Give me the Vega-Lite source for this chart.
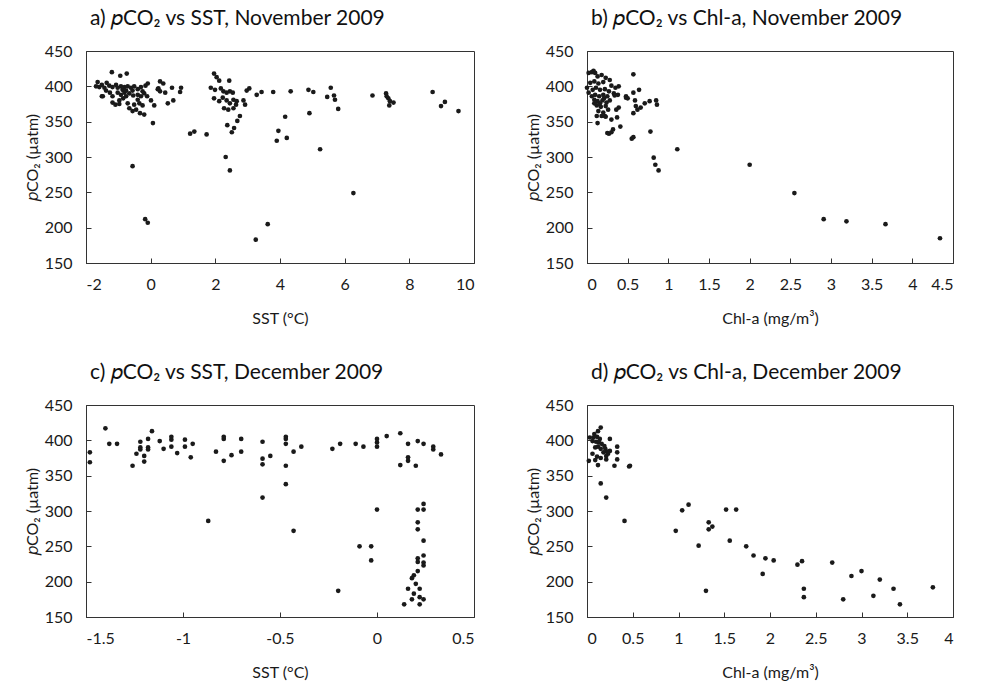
{
  "$schema": "https://vega.github.io/schema/vega-lite/v6.json",
  "background": "white",
  "padding": {"left": 23, "top": 7, "right": 5, "bottom": 5},
  "bounds": "flush",
  "columns": 2,
  "spacing": {"row": 142, "column": 113},
  "config": {
    "font": "Lato",
    "view": {"stroke": "#333333", "strokeWidth": 1},
    "axis": {"grid": false, "domainColor": "#333333", "tickColor": "#333333", "tickSize": -5, "labelFont": "Lato", "labelFontSize": 16, "labelColor": "#1a1a1a", "titleFont": "Lato", "titleFontSize": 16, "titleFontWeight": "normal", "titleColor": "#1a1a1a", "labelExpr": "'' + datum.value"},
    "axisY": {"labelPadding": 19, "titlePadding": 4},
    "axisX": {"labelPadding": 18, "titlePadding": 18},
    "title": {"font": "Lato", "fontSize": 21, "fontWeight": "normal", "anchor": "start", "frame": "group", "color": "#111111", "offset": 14, "dx": 4},
    "point": {"filled": true, "shape": "circle", "size": 22, "color": "#1a1a1a", "opacity": 1}
  },
  "datasets": {
    "a": [
      {"x": -1.20, "y": 420}, {"x": -0.94, "y": 415}, {"x": -0.74, "y": 418}, {"x": -1.64, "y": 406}, {"x": -1.59, "y": 399}, {"x": -1.51, "y": 402}, {"x": -1.43, "y": 398}, {"x": -1.36, "y": 405}, {"x": -1.28, "y": 401}, {"x": -1.18, "y": 399}, {"x": -1.07, "y": 402}, {"x": -1.02, "y": 398}, {"x": -0.92, "y": 400}, {"x": -0.81, "y": 399}, {"x": -0.71, "y": 400}, {"x": -0.61, "y": 398}, {"x": -0.51, "y": 400}, {"x": -0.40, "y": 396}, {"x": -0.30, "y": 399}, {"x": -0.16, "y": 401}, {"x": -0.09, "y": 404}, {"x": -1.51, "y": 386}, {"x": -1.26, "y": 391}, {"x": -1.18, "y": 386}, {"x": -1.02, "y": 391}, {"x": -0.92, "y": 388}, {"x": -0.81, "y": 391}, {"x": -0.76, "y": 386}, {"x": -0.66, "y": 390}, {"x": -0.54, "y": 387}, {"x": -0.40, "y": 388}, {"x": -0.30, "y": 386}, {"x": -0.20, "y": 390}, {"x": -1.18, "y": 377}, {"x": -1.09, "y": 374}, {"x": -0.97, "y": 380}, {"x": -0.71, "y": 376}, {"x": -0.51, "y": 374}, {"x": -0.35, "y": 376}, {"x": -0.66, "y": 369}, {"x": -0.45, "y": 367}, {"x": -0.33, "y": 362}, {"x": -0.20, "y": 360}, {"x": 0.01, "y": 380}, {"x": 0.11, "y": 373}, {"x": 0.07, "y": 348}, {"x": -0.11, "y": 386}, {"x": -0.87, "y": 395}, {"x": -1.38, "y": 394}, {"x": -0.56, "y": 394}, {"x": -0.25, "y": 393}, {"x": -1.69, "y": 400}, {"x": -0.76, "y": 394}, {"x": -0.85, "y": 383}, {"x": -0.97, "y": 375}, {"x": -0.40, "y": 381}, {"x": -0.25, "y": 373}, {"x": -0.56, "y": 365}, {"x": -1.48, "y": 386},
      {"x": 0.22, "y": 396}, {"x": 0.29, "y": 407}, {"x": 0.39, "y": 404}, {"x": 0.45, "y": 391}, {"x": 0.66, "y": 398}, {"x": 0.53, "y": 376}, {"x": 0.70, "y": 380}, {"x": 0.94, "y": 398}, {"x": 0.91, "y": 392}, {"x": 0.24, "y": 397}, {"x": 0.29, "y": 393},
      {"x": 1.22, "y": 333}, {"x": 1.35, "y": 336}, {"x": 1.73, "y": 332}, {"x": -0.56, "y": 287}, {"x": -0.17, "y": 212}, {"x": -0.09, "y": 207},
      {"x": 1.96, "y": 418}, {"x": 2.04, "y": 413}, {"x": 2.12, "y": 408}, {"x": 2.43, "y": 408}, {"x": 1.86, "y": 398}, {"x": 1.99, "y": 395}, {"x": 2.17, "y": 397}, {"x": 2.25, "y": 393}, {"x": 2.35, "y": 391}, {"x": 2.45, "y": 393}, {"x": 2.54, "y": 391}, {"x": 2.97, "y": 394}, {"x": 3.05, "y": 397}, {"x": 3.28, "y": 388}, {"x": 3.43, "y": 392}, {"x": 3.79, "y": 392}, {"x": 1.96, "y": 383}, {"x": 2.12, "y": 379}, {"x": 2.23, "y": 384}, {"x": 2.35, "y": 380}, {"x": 2.45, "y": 376}, {"x": 2.56, "y": 381}, {"x": 2.66, "y": 379}, {"x": 2.87, "y": 380}, {"x": 2.92, "y": 374}, {"x": 2.27, "y": 369}, {"x": 2.40, "y": 367}, {"x": 2.56, "y": 369}, {"x": 2.64, "y": 374}, {"x": 2.76, "y": 358}, {"x": 2.68, "y": 351}, {"x": 2.37, "y": 345}, {"x": 2.58, "y": 341}, {"x": 2.51, "y": 335}, {"x": 3.95, "y": 337}, {"x": 3.90, "y": 323}, {"x": 2.32, "y": 300}, {"x": 2.45, "y": 281}, {"x": 3.62, "y": 205}, {"x": 3.25, "y": 183},
      {"x": 4.33, "y": 393}, {"x": 4.88, "y": 395}, {"x": 5.03, "y": 392}, {"x": 5.57, "y": 398}, {"x": 5.46, "y": 385}, {"x": 5.67, "y": 387}, {"x": 5.70, "y": 381}, {"x": 5.80, "y": 368}, {"x": 4.16, "y": 357}, {"x": 4.91, "y": 362}, {"x": 4.21, "y": 327}, {"x": 5.24, "y": 311}, {"x": 6.27, "y": 249}, {"x": 6.86, "y": 387}, {"x": 7.28, "y": 390}, {"x": 7.30, "y": 386}, {"x": 7.35, "y": 383}, {"x": 7.40, "y": 379}, {"x": 7.51, "y": 377}, {"x": 7.38, "y": 373}, {"x": 8.72, "y": 392}, {"x": 9.10, "y": 378}, {"x": 8.98, "y": 372}, {"x": 9.52, "y": 365}
    ],
    "b": [
      {"x": 0.02, "y": 419}, {"x": 0.08, "y": 422}, {"x": 0.13, "y": 414}, {"x": 0.18, "y": 416}, {"x": 0.23, "y": 412}, {"x": 0.28, "y": 409}, {"x": 0.04, "y": 405}, {"x": 0.09, "y": 407}, {"x": 0.14, "y": 404}, {"x": 0.20, "y": 406}, {"x": 0.30, "y": 401}, {"x": 0.35, "y": 398}, {"x": 0.39, "y": 400}, {"x": 0.07, "y": 395}, {"x": 0.11, "y": 398}, {"x": 0.16, "y": 395}, {"x": 0.22, "y": 396}, {"x": 0.27, "y": 393}, {"x": 0.33, "y": 390}, {"x": 0.38, "y": 388}, {"x": 0.02, "y": 391}, {"x": 0.10, "y": 388}, {"x": 0.15, "y": 386}, {"x": 0.20, "y": 388}, {"x": 0.25, "y": 386}, {"x": 0.09, "y": 381}, {"x": 0.13, "y": 379}, {"x": 0.19, "y": 380}, {"x": 0.24, "y": 377}, {"x": 0.12, "y": 373}, {"x": 0.17, "y": 371}, {"x": 0.23, "y": 372}, {"x": 0.14, "y": 365}, {"x": 0.20, "y": 363}, {"x": 0.26, "y": 367}, {"x": 0.18, "y": 358}, {"x": 0.23, "y": 357}, {"x": 0.48, "y": 386}, {"x": 0.00, "y": 398}, {"x": 0.06, "y": 386}, {"x": 0.09, "y": 376}, {"x": 0.16, "y": 376}, {"x": 0.21, "y": 383}, {"x": 0.28, "y": 380}, {"x": 0.34, "y": 387}, {"x": 0.12, "y": 358}, {"x": 0.06, "y": 420}, {"x": 0.10, "y": 419},
      {"x": 0.57, "y": 417}, {"x": 0.64, "y": 395}, {"x": 0.57, "y": 391}, {"x": 0.48, "y": 384}, {"x": 0.50, "y": 383}, {"x": 0.59, "y": 380}, {"x": 0.66, "y": 370}, {"x": 0.71, "y": 376}, {"x": 0.77, "y": 379}, {"x": 0.85, "y": 380}, {"x": 0.86, "y": 374}, {"x": 0.60, "y": 372}, {"x": 0.57, "y": 362}, {"x": 0.62, "y": 367}, {"x": 0.39, "y": 370}, {"x": 0.36, "y": 367}, {"x": 0.30, "y": 353}, {"x": 0.37, "y": 356}, {"x": 0.41, "y": 343}, {"x": 0.13, "y": 348}, {"x": 0.22, "y": 358}, {"x": 0.25, "y": 334}, {"x": 0.27, "y": 333}, {"x": 0.32, "y": 339}, {"x": 0.30, "y": 335}, {"x": 0.55, "y": 326}, {"x": 0.57, "y": 328}, {"x": 0.78, "y": 336}, {"x": 1.11, "y": 311}, {"x": 0.82, "y": 299}, {"x": 0.84, "y": 289}, {"x": 0.88, "y": 281},
      {"x": 2.00, "y": 289}, {"x": 2.55, "y": 249}, {"x": 2.91, "y": 212}, {"x": 3.19, "y": 209}, {"x": 3.67, "y": 205}, {"x": 4.34, "y": 185}
    ],
    "c": [
      {"x": -1.40, "y": 417}, {"x": -1.48, "y": 383}, {"x": -1.48, "y": 369}, {"x": -1.38, "y": 395}, {"x": -1.34, "y": 395}, {"x": -1.26, "y": 364}, {"x": -1.24, "y": 381}, {"x": -1.22, "y": 398}, {"x": -1.22, "y": 390}, {"x": -1.22, "y": 387}, {"x": -1.20, "y": 378}, {"x": -1.20, "y": 370}, {"x": -1.18, "y": 402}, {"x": -1.18, "y": 390}, {"x": -1.18, "y": 387}, {"x": -1.16, "y": 413}, {"x": -1.12, "y": 399}, {"x": -1.10, "y": 388}, {"x": -1.06, "y": 405}, {"x": -1.06, "y": 401}, {"x": -1.06, "y": 391}, {"x": -1.03, "y": 382}, {"x": -0.99, "y": 401}, {"x": -0.99, "y": 391}, {"x": -0.96, "y": 376}, {"x": -0.95, "y": 395}, {"x": -0.87, "y": 286}, {"x": -0.83, "y": 384}, {"x": -0.79, "y": 405}, {"x": -0.79, "y": 402}, {"x": -0.79, "y": 371}, {"x": -0.75, "y": 379}, {"x": -0.70, "y": 402}, {"x": -0.70, "y": 384}, {"x": -0.59, "y": 398}, {"x": -0.59, "y": 374}, {"x": -0.59, "y": 366}, {"x": -0.59, "y": 319}, {"x": -0.55, "y": 378},
      {"x": -0.47, "y": 405}, {"x": -0.47, "y": 402}, {"x": -0.47, "y": 395}, {"x": -0.47, "y": 364}, {"x": -0.47, "y": 338}, {"x": -0.43, "y": 384}, {"x": -0.39, "y": 391}, {"x": -0.43, "y": 272}, {"x": -0.23, "y": 388}, {"x": -0.19, "y": 395}, {"x": -0.11, "y": 395}, {"x": -0.07, "y": 391}, {"x": 0.00, "y": 402}, {"x": 0.00, "y": 397}, {"x": 0.00, "y": 391}, {"x": 0.05, "y": 406}, {"x": 0.00, "y": 302}, {"x": 0.12, "y": 410}, {"x": 0.16, "y": 395}, {"x": 0.21, "y": 399}, {"x": 0.24, "y": 395}, {"x": 0.29, "y": 391}, {"x": 0.29, "y": 387}, {"x": 0.33, "y": 380}, {"x": 0.12, "y": 365}, {"x": 0.16, "y": 376}, {"x": 0.16, "y": 371}, {"x": 0.20, "y": 364}, {"x": -0.09, "y": 250}, {"x": -0.03, "y": 250}, {"x": -0.03, "y": 230}, {"x": 0.24, "y": 310}, {"x": 0.24, "y": 302}, {"x": 0.21, "y": 302}, {"x": 0.21, "y": 284}, {"x": 0.21, "y": 274}, {"x": 0.24, "y": 258}, {"x": 0.24, "y": 237}, {"x": 0.24, "y": 227}, {"x": 0.24, "y": 223}, {"x": 0.21, "y": 233}, {"x": 0.21, "y": 228}, {"x": 0.21, "y": 215}, {"x": 0.19, "y": 209},
      {"x": -0.20, "y": 187}, {"x": 0.18, "y": 205}, {"x": 0.20, "y": 197}, {"x": 0.22, "y": 190}, {"x": 0.16, "y": 190}, {"x": 0.19, "y": 183}, {"x": 0.22, "y": 178}, {"x": 0.14, "y": 168}, {"x": 0.18, "y": 175}, {"x": 0.24, "y": 175}, {"x": 0.22, "y": 168}
    ],
    "d": [
      {"x": 0.15, "y": 418}, {"x": 0.12, "y": 413}, {"x": 0.08, "y": 409}, {"x": 0.03, "y": 404}, {"x": 0.07, "y": 404}, {"x": 0.11, "y": 405}, {"x": 0.14, "y": 402}, {"x": 0.06, "y": 399}, {"x": 0.10, "y": 398}, {"x": 0.13, "y": 397}, {"x": 0.16, "y": 395}, {"x": 0.19, "y": 392}, {"x": 0.12, "y": 391}, {"x": 0.09, "y": 390}, {"x": 0.15, "y": 388}, {"x": 0.20, "y": 388}, {"x": 0.22, "y": 384}, {"x": 0.18, "y": 383}, {"x": 0.25, "y": 385}, {"x": 0.25, "y": 402}, {"x": 0.33, "y": 391}, {"x": 0.33, "y": 383}, {"x": 0.33, "y": 373}, {"x": 0.06, "y": 381}, {"x": 0.11, "y": 377}, {"x": 0.15, "y": 375}, {"x": 0.21, "y": 378}, {"x": 0.23, "y": 381}, {"x": 0.02, "y": 371}, {"x": 0.12, "y": 365}, {"x": 0.09, "y": 372}, {"x": 0.21, "y": 373}, {"x": 0.30, "y": 364}, {"x": 0.47, "y": 364}, {"x": 0.46, "y": 363}, {"x": 0.15, "y": 339}, {"x": 0.21, "y": 319}, {"x": 0.41, "y": 286},
      {"x": 0.97, "y": 272}, {"x": 1.04, "y": 301}, {"x": 1.11, "y": 309}, {"x": 1.22, "y": 251}, {"x": 1.33, "y": 284}, {"x": 1.33, "y": 274}, {"x": 1.37, "y": 278}, {"x": 1.52, "y": 302}, {"x": 1.63, "y": 302}, {"x": 1.56, "y": 258}, {"x": 1.74, "y": 250}, {"x": 1.82, "y": 237}, {"x": 1.95, "y": 233}, {"x": 2.04, "y": 230}, {"x": 1.92, "y": 211},
      {"x": 2.30, "y": 224}, {"x": 2.35, "y": 229}, {"x": 2.68, "y": 227}, {"x": 3.00, "y": 215}, {"x": 2.89, "y": 208},
      {"x": 1.30, "y": 187}, {"x": 2.37, "y": 190}, {"x": 2.37, "y": 178}, {"x": 2.80, "y": 175}, {"x": 3.13, "y": 180}, {"x": 3.20, "y": 203}, {"x": 3.35, "y": 190}, {"x": 3.42, "y": 168}, {"x": 3.78, "y": 192}
    ]
  },
  "concat": [
    {
      "width": 388, "height": 212,
      "title": "a) 𝑝CO₂ vs SST, November 2009",
      "data": {"name": "a"},
      "mark": {"type": "point"},
      "encoding": {
        "x": {"field": "x", "type": "quantitative", "scale": {"domain": [-2, 10], "nice": false, "zero": false}, "axis": {"values": [-2, 0, 2, 4, 6, 8, 10], "title": "SST (°C)"}},
        "y": {"field": "y", "type": "quantitative", "scale": {"domain": [150, 450], "nice": false, "zero": false}, "axis": {"values": [150, 200, 250, 300, 350, 400, 450], "title": "𝑝CO₂ (µatm)"}}
      }
    },
    {
      "width": 366, "height": 212,
      "title": "b) 𝑝CO₂ vs Chl-a, November 2009",
      "data": {"name": "b"},
      "mark": {"type": "point"},
      "encoding": {
        "x": {"field": "x", "type": "quantitative", "scale": {"domain": [0, 4.5], "nice": false, "zero": false}, "axis": {"values": [0, 0.5, 1, 1.5, 2, 2.5, 3, 3.5, 4, 4.5], "title": "Chl-a (mg/m³)"}},
        "y": {"field": "y", "type": "quantitative", "scale": {"domain": [150, 450], "nice": false, "zero": false}, "axis": {"values": [150, 200, 250, 300, 350, 400, 450], "title": "𝑝CO₂ (µatm)"}}
      }
    },
    {
      "width": 388, "height": 212,
      "title": "c) 𝑝CO₂ vs SST, December 2009",
      "data": {"name": "c"},
      "mark": {"type": "point"},
      "encoding": {
        "x": {"field": "x", "type": "quantitative", "scale": {"domain": [-1.5, 0.5], "nice": false, "zero": false}, "axis": {"values": [-1.5, -1, -0.5, 0, 0.5], "title": "SST (°C)"}},
        "y": {"field": "y", "type": "quantitative", "scale": {"domain": [150, 450], "nice": false, "zero": false}, "axis": {"values": [150, 200, 250, 300, 350, 400, 450], "title": "𝑝CO₂ (µatm)"}}
      }
    },
    {
      "width": 366, "height": 212,
      "title": "d) 𝑝CO₂ vs Chl-a, December 2009",
      "data": {"name": "d"},
      "mark": {"type": "point"},
      "encoding": {
        "x": {"field": "x", "type": "quantitative", "scale": {"domain": [0, 4], "nice": false, "zero": false}, "axis": {"values": [0, 0.5, 1, 1.5, 2, 2.5, 3, 3.5, 4], "title": "Chl-a (mg/m³)"}},
        "y": {"field": "y", "type": "quantitative", "scale": {"domain": [150, 450], "nice": false, "zero": false}, "axis": {"values": [150, 200, 250, 300, 350, 400, 450], "title": "𝑝CO₂ (µatm)"}}
      }
    }
  ]
}
